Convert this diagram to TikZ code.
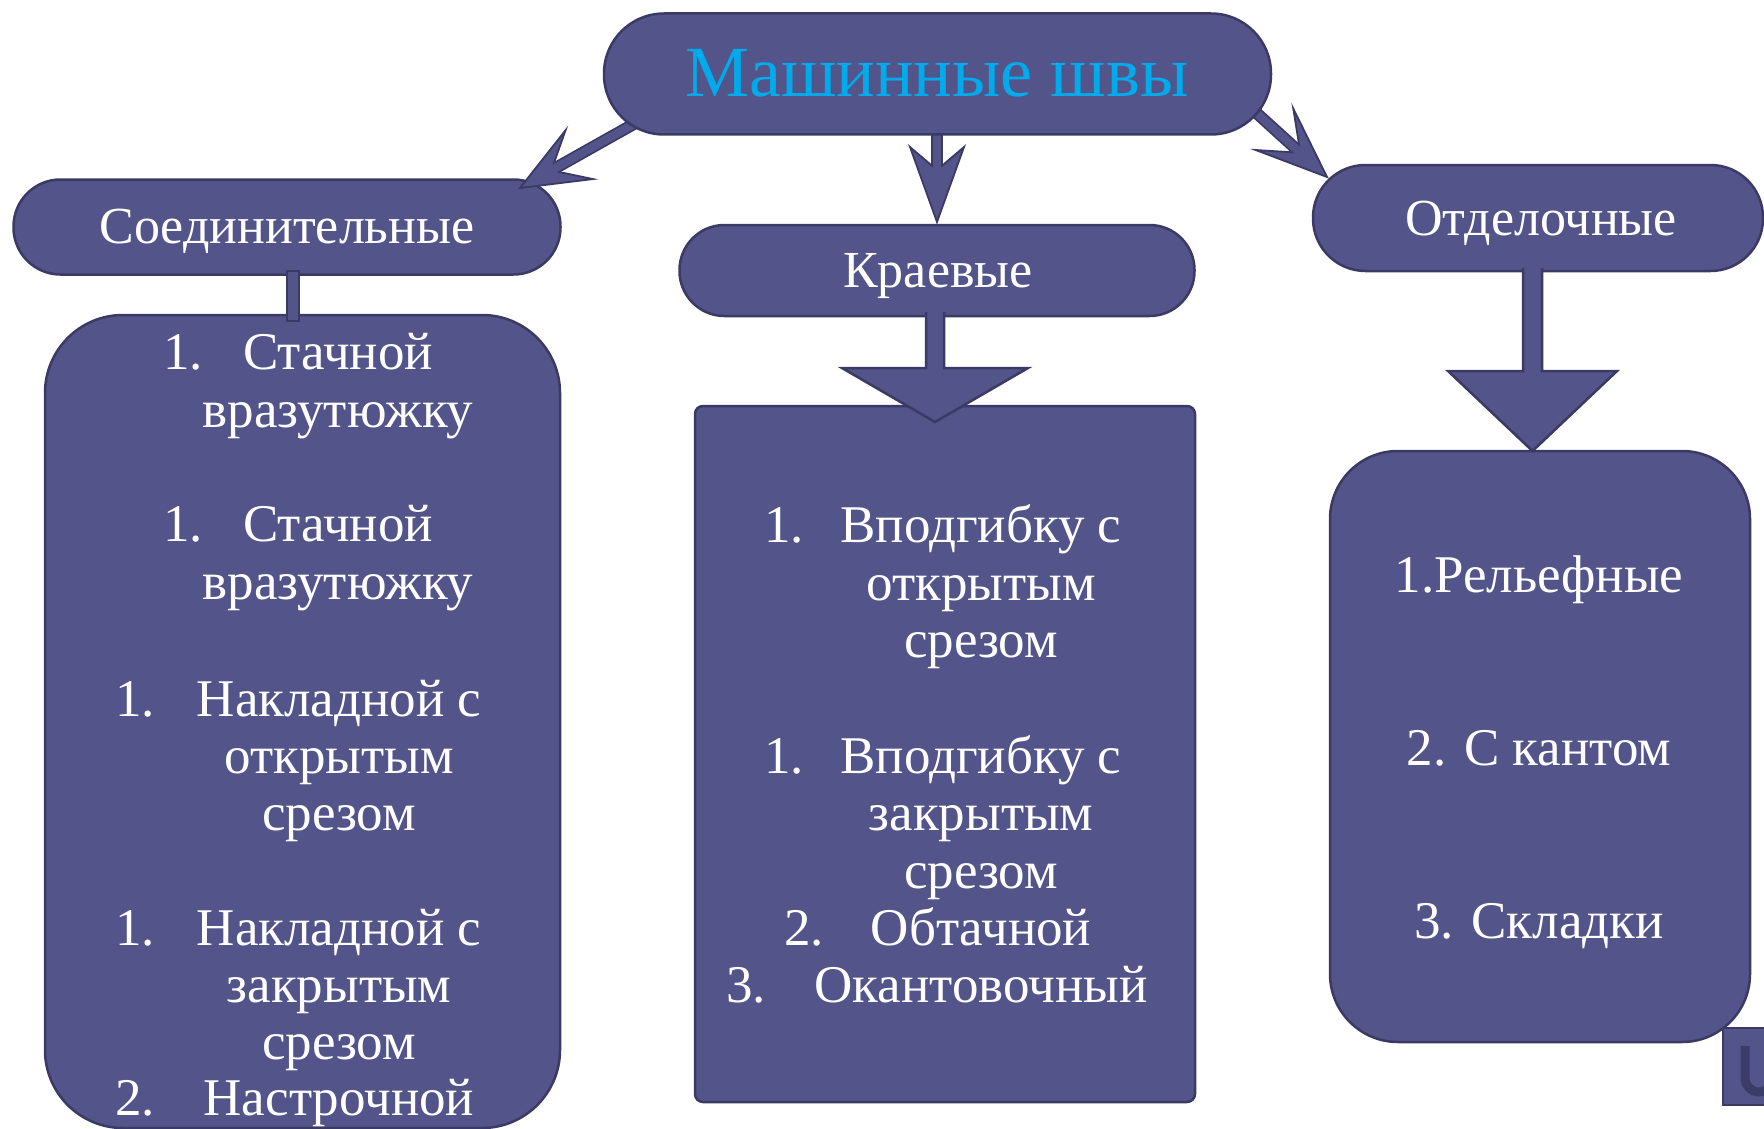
\documentclass[tikz,border=0pt]{standalone}
\usepackage{fontspec}
\setmainfont{Liberation Serif}
\usetikzlibrary{calc,backgrounds}
\definecolor{fc}{RGB}{83,84,138}
\definecolor{bdc}{RGB}{58,58,100}
\definecolor{tc}{RGB}{0,170,235}
\definecolor{uc}{RGB}{60,60,105}
\pgfdeclarelayer{front}
\pgfsetlayers{background,main,front}
\tikzset{
  shapebox/.style={rectangle, fill=fc, draw=bdc, line width=2.5pt, inner sep=0pt},
  blockarr/.style={fill=fc, draw=bdc, line width=2.5pt, line join=miter},
  wtext/.style={text=white, font=\fontsize{53}{58}\selectfont, inner sep=0pt, anchor=base},
  wnum/.style={wtext, anchor=base west},
  htext/.style={text=white, font=\fontsize{52}{58}\selectfont, inner sep=0pt, anchor=base},
}
\newcommand{\msarrow}[5]{%
  \coordinate (hb) at ($(#2)!#3!(#1)$);
  \coordinate (hn) at ($(#2)!#5!(#1)$);
  \coordinate (w1) at ($(hb)!#4!90:(#2)$);
  \coordinate (w2) at ($(hb)!#4!-90:(#2)$);
  \draw[line width=12pt, draw=bdc] (#1) -- (hn);
  \filldraw[fill=fc, draw=bdc, line width=1.8pt, line join=miter] (#2) -- (w1) -- (hn) -- (w2) -- cycle;
  \draw[line width=8.5pt, draw=fc] (#1) -- ($(hn)!6pt!(#2)$);
}
\begin{document}
\begin{tikzpicture}[x=1pt,y=-1pt]
\useasboundingbox (0,0) rectangle (1764,1129);

% bodies
\node[shapebox, minimum width=515pt, minimum height=813pt, rounded corners=78pt] (lbody) at (302.5,721.5) {};
\node[shapebox, minimum width=500pt, minimum height=696pt, rounded corners=8pt] (mbody) at (945,754) {};
\node[shapebox, minimum width=420pt, minimum height=591pt, rounded corners=68pt] (rbody) at (1540,746.5) {};

% headers
\node[shapebox, minimum width=547pt, minimum height=95pt, rounded corners=47pt] (lhead) at (287,227) {};
\node[shapebox, minimum width=515pt, minimum height=91pt, rounded corners=45pt] (mhead) at (937,270.5) {};
\node[shapebox, minimum width=450pt, minimum height=106pt, rounded corners=52.5pt] (rhead) at (1538,218) {};

% connector bar
\node[shapebox, line width=2pt, minimum width=12pt, minimum height=50pt] (bar) at (293,296) {};

% block arrows
\filldraw[blockarr] (926,312) -- (926,368) -- (842,368) -- (935,422) -- (1028,368) -- (944,368) -- (944,312);
\filldraw[blockarr] (1523,268) -- (1523,371) -- (1448,371) -- (1532.5,451) -- (1617,371) -- (1542,371) -- (1542,268);

% title
\begin{pgfonlayer}{front}
\node[shapebox, minimum width=667pt, minimum height=121pt, rounded corners=60pt] (title) at (937.5,74) {};
\node[text=tc, font=\fontsize{72}{80}\selectfont, inner sep=0pt, anchor=base] (ttext) at (937,97) {Машинные швы};
\end{pgfonlayer}

% thin arrows
\coordinate (sL) at (648,116);
\coordinate (tL) at (520,188);
\coordinate (sM) at (937,125);
\coordinate (tM) at (937,222);
\coordinate (sR) at (1240,98);
\coordinate (tR) at (1327,177);
\msarrow{sL}{tL}{68pt}{28pt}{36pt}
\msarrow{sM}{tM}{75pt}{27pt}{52pt}
\msarrow{sR}{tR}{71pt}{28pt}{36pt}

% header texts
\node[htext] (h1) at (287,243) {Соединительные};
\node[htext] (h2) at (938,287) {Краевые};
\node[htext] (h3) at (1541,235) {Отделочные};

% left texts
\node[wnum] (ln1) at (163,369) {1.};
\node[wtext] (lt1) at (338,369) {Стачной};
\node[wtext] (lt2) at (338,427) {вразутюжку};
\node[wnum] (ln2) at (163,541) {1.};
\node[wtext] (lt3) at (338,541) {Стачной};
\node[wtext] (lt4) at (338,599) {вразутюжку};
\node[wnum] (ln3) at (115,716) {1.};
\node[wtext] (lt5) at (339,716) {Накладной с};
\node[wtext] (lt6) at (339,773) {открытым};
\node[wtext] (lt7) at (339,830) {срезом};
\node[wnum] (ln4) at (115,945) {1.};
\node[wtext] (lt8) at (339,945) {Накладной с};
\node[wtext] (lt9) at (339,1002) {закрытым};
\node[wtext] (lt10) at (339,1059) {срезом};
\node[wnum] (ln5) at (115,1115) {2.};
\node[wtext] (lt11) at (339,1115) {Настрочной};

% middle texts
\node[wnum] (mn1) at (764,542) {1.};
\node[wtext] (mt1) at (981,542) {Вподгибку с};
\node[wtext] (mt2) at (981,600) {открытым};
\node[wtext] (mt3) at (981,657) {срезом};
\node[wnum] (mn2) at (764,773) {1.};
\node[wtext] (mt4) at (981,773) {Вподгибку с};
\node[wtext] (mt5) at (981,830) {закрытым};
\node[wtext] (mt6) at (981,888) {срезом};
\node[wnum] (mn3) at (784,945) {2.};
\node[wtext] (mt7) at (981,945) {Обтачной};
\node[wnum] (mn4) at (726,1002) {3.};
\node[wtext] (mt8) at (981,1002) {Окантовочный};

% right texts
\node[wtext] (rt1) at (1539,592) {1.Рельефные};
\node[wtext] (rt2) at (1539,765) {2. С кантом};
\node[wtext] (rt3) at (1539,938) {3. Складки};

% corner logo fragment
\node[shapebox, line width=2pt, minimum width=50pt, minimum height=77pt, anchor=north west] (logo) at (1722,1027) {};
\draw[uc, line width=9pt] (1745,1046) -- (1745,1078) arc[start angle=180, end angle=360, radius=14pt] -- (1773,1046);
\end{tikzpicture}
\end{document}
